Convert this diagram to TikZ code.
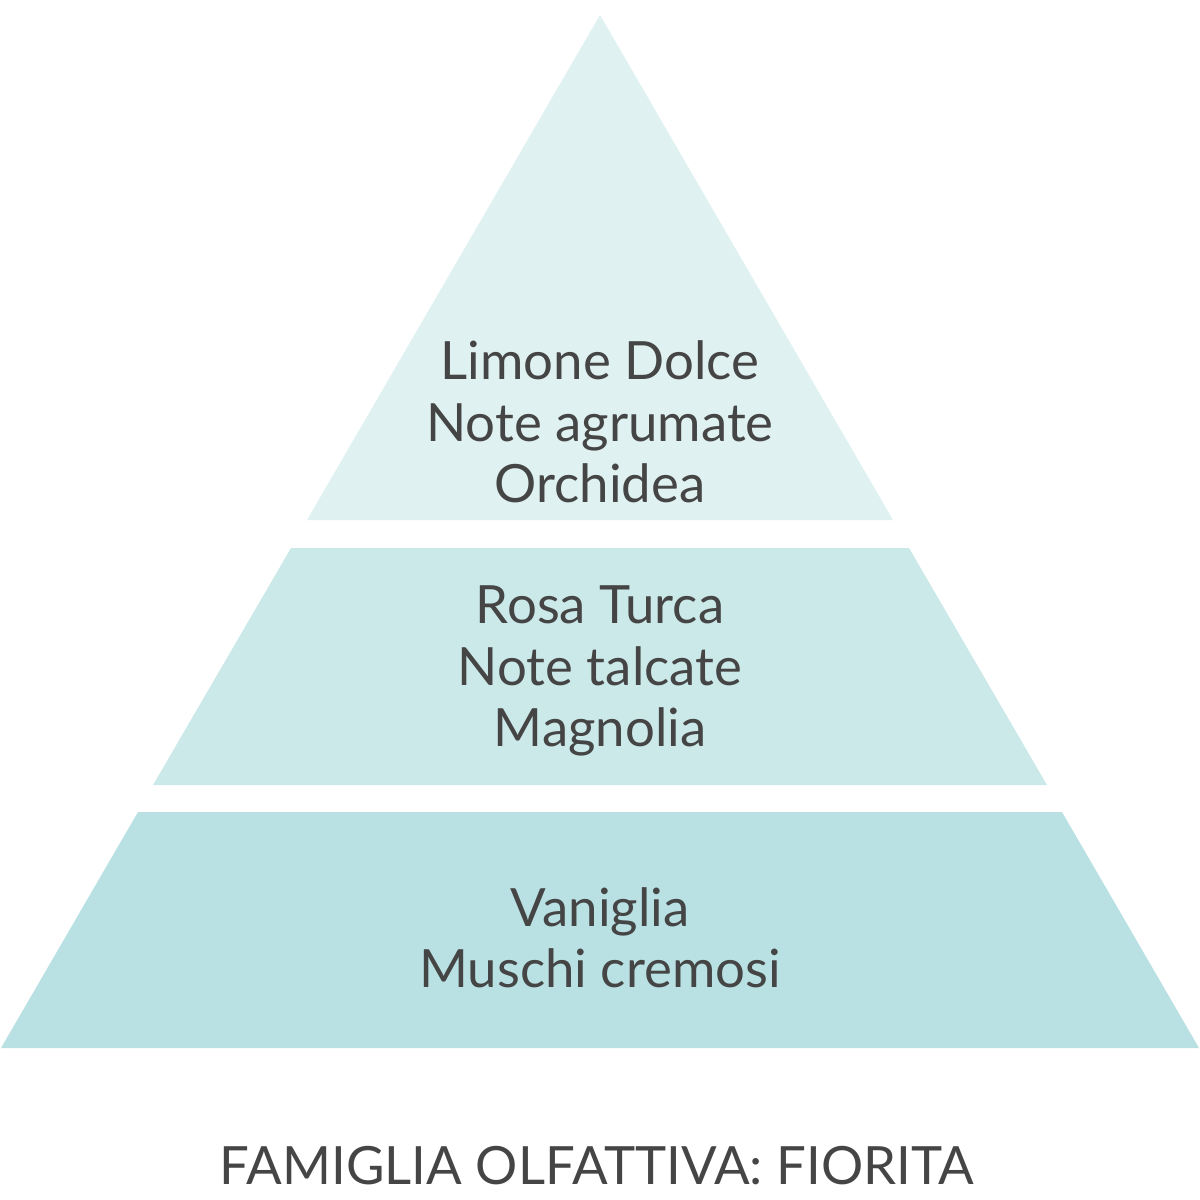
\documentclass[tikz,border=0pt]{standalone}
\usepackage{fontspec}
\setmainfont{Lato}
\definecolor{tiertop}{HTML}{DFF1F1}
\definecolor{tiermid}{HTML}{CCE9EA}
\definecolor{tierbot}{HTML}{B9E1E3}
\definecolor{notetext}{HTML}{454545}
\begin{document}
\begin{tikzpicture}[x=0.01cm, y=-0.01cm,
    notes/.style={align=center, text=notetext, font=\fontsize{15}{17.5}\selectfont}]
    \useasboundingbox (0,0) rectangle (1200,1200);
    \fill[tiertop] (600,15) -- (893,520) -- (307,520) -- cycle;
    \fill[tiermid] (291,548) -- (909,548) -- (1047,785) -- (153,785) -- cycle;
    \fill[tierbot] (138,812) -- (1062,812) -- (1199,1048) -- (1,1048) -- cycle;

    \node[notes] at (600,422) (top) {Limone Dolce\\Note agrumate\\Orchidea};
    \node[notes] at (600,671) (heart) {Rosa Turca\\Note talcate\\Magnolia};
    \node[notes] at (600,938) (base) {Vaniglia\\Muschi cremosi};
    \node[notes] at (597,1166) (family) {FAMIGLIA OLFATTIVA: FIORITA};
\end{tikzpicture}
\end{document}
